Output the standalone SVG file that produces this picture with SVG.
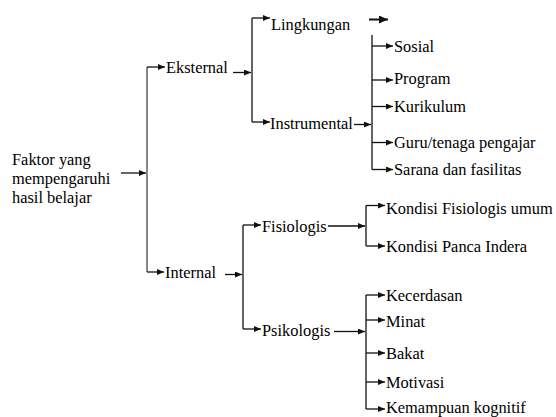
<svg xmlns="http://www.w3.org/2000/svg" width="556" height="417" viewBox="0 0 556 417">
<style>
text{font-family:"Liberation Serif","Times New Roman",serif;font-size:16.4px;fill:#000}
.c{stroke:#111;stroke-width:1.3;fill:none}
.a{marker-end:url(#ah)}
</style>
<defs>
<marker id="ah" markerUnits="userSpaceOnUse" markerWidth="8" markerHeight="7" refX="7" refY="3" orient="auto">
<path d="M0,0 L7,3 L0,6 z" fill="#111"/>
</marker>
<marker id="ahb" markerUnits="userSpaceOnUse" markerWidth="10" markerHeight="9" refX="9" refY="4" orient="auto">
<path d="M0,0 L9,4 L0,8 z" fill="#111"/>
</marker>
</defs>
<rect width="556" height="417" fill="#fff"/>
<g id="connectors">
<path class="c a" d="M121,173 H146"/>
<path d="M147,272 V67" stroke="#555" stroke-width="1.4" fill="none"/>
<path class="c a" d="M147,67 H165"/>
<path class="c a" d="M147,272 H164"/>
<path class="c a" d="M233,72.5 H251"/>
<path class="c" d="M252,18 V122"/>
<path class="c a" d="M252,18 H270"/>
<path class="c a" d="M252,122 H270"/>
<path d="M369,19.5 H388" stroke="#111" stroke-width="2" fill="none" marker-end="url(#ahb)"/>
<path class="c a" d="M354,124.5 H371"/>
<path class="c" d="M372,35 V169.5"/>
<path class="c a" d="M372,46 H393"/>
<path class="c a" d="M372,80 H393"/>
<path class="c a" d="M372,106.5 H393"/>
<path class="c a" d="M372,142.5 H393"/>
<path class="c a" d="M372,169.5 H393"/>
<path class="c a" d="M225,274.5 H242"/>
<path class="c" d="M243,225 V329"/>
<path class="c a" d="M243,225 H261"/>
<path class="c a" d="M243,329 H261"/>
<path class="c a" d="M328,226 H365"/>
<path class="c" d="M366,205.5 V246"/>
<path class="c a" d="M366,205.5 H385"/>
<path class="c a" d="M366,246 H385"/>
<path class="c a" d="M334,331.5 H365"/>
<path class="c" d="M366,295 V409"/>
<path class="c a" d="M366,295 H385"/>
<path class="c a" d="M366,320 H385"/>
<path class="c a" d="M366,353 H385"/>
<path class="c a" d="M366,382 H385"/>
<path class="c a" d="M366,409 H385"/>
</g>
<g id="faktor"><text x="12" y="165">Faktor yang</text><text x="12" y="184">mempengaruhi</text><text x="12" y="203">hasil belajar</text></g>
<g id="eksternal"><text x="166" y="73">Eksternal</text></g>
<g id="internal"><text x="165" y="278">Internal</text></g>
<g id="lingkungan"><text x="271" y="29.5">Lingkungan</text></g>
<g id="instrumental"><text x="270" y="128.5">Instrumental</text></g>
<g id="sosial"><text x="394" y="51.5">Sosial</text></g>
<g id="program"><text x="394" y="84">Program</text></g>
<g id="kurikulum"><text x="394" y="112">Kurikulum</text></g>
<g id="guru"><text x="394" y="148">Guru/tenaga pengajar</text></g>
<g id="sarana"><text x="394" y="174.5">Sarana dan fasilitas</text></g>
<g id="fisiologis"><text x="262" y="231.5">Fisiologis</text></g>
<g id="psikologis"><text x="262" y="336">Psikologis</text></g>
<g id="kondisi-fisiologis"><text x="386" y="213.5">Kondisi Fisiologis umum</text></g>
<g id="kondisi-panca"><text x="386" y="252">Kondisi Panca Indera</text></g>
<g id="kecerdasan"><text x="386" y="301">Kecerdasan</text></g>
<g id="minat"><text x="386" y="327">Minat</text></g>
<g id="bakat"><text x="386" y="359">Bakat</text></g>
<g id="motivasi"><text x="386" y="388">Motivasi</text></g>
<g id="kemampuan"><text x="386" y="413">Kemampuan kognitif</text></g>
</svg>
